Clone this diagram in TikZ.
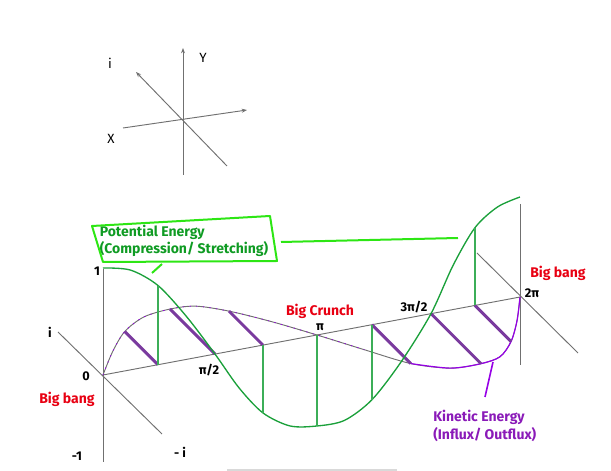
\documentclass[tikz,border=0pt]{standalone}
\usepackage{fontspec}
\setmainfont{Fira Sans}
\usepackage{xcolor}
\usepackage{tikz}
\usetikzlibrary{arrows.meta, positioning, calc}
\definecolor{axisgray}{RGB}{112,112,112}
\definecolor{curvegreen}{RGB}{26,160,58}
\definecolor{textgreen}{RGB}{15,155,35}
\definecolor{boxgreen}{RGB}{45,230,20}
\definecolor{kinpurple}{RGB}{122,58,158}
\definecolor{brightpurple}{RGB}{150,0,230}
\definecolor{textpurple}{RGB}{138,26,184}
\definecolor{bangred}{RGB}{232,0,18}
\tikzset{
  axisline/.style  = {draw=axisgray, line width=0.7pt},
  axisarrow/.style = {axisline, -{Stealth[length=4pt, width=3pt]}},
  potcurve/.style  = {draw=curvegreen, line width=1pt},
  potbar/.style    = {draw=curvegreen!85, line width=1.1pt},
  kincurve/.style  = {draw=axisgray, line width=0.7pt},
  kinbar/.style    = {draw=kinpurple, line width=2.2pt},
  potbox/.style    = {draw=boxgreen, line width=1.5pt, line join=round},
  tag/.style       = {inner sep=0pt, font=\fontsize{10.5}{13}\selectfont\bfseries},
  redtag/.style    = {tag, text=bangred},
  ticktag/.style   = {inner sep=0pt, font=\fontsize{9.5}{11}\selectfont\bfseries},
  axtag/.style     = {inner sep=0pt, font=\fontsize{10}{12}\selectfont},
}
\begin{document}
\begin{tikzpicture}[x=0.75pt, y=0.75pt]
  \useasboundingbox (0,0) rectangle (611,471);

  % small frame of axes
  \coordinate (c) at (183,351);
  \coordinate (ytop) at (183,423);
  \coordinate (ybot) at (183,296);
  \coordinate (xl) at (123,343);
  \coordinate (xr) at (247,361);
  \coordinate (itop) at (136,399);
  \coordinate (ibot) at (227,305);
  \draw[axisarrow] (ybot) -- (ytop);
  \draw[axisarrow] (xl) -- (xr);
  \draw[axisarrow] (ibot) -- (itop);
  \node[axtag] (lbli) at (110,408) {i};
  \node[axtag] (lbly) at (203,413) {Y};
  \node[axtag] (lblx) at (111,332) {X};

  % points along the time axis, k*pi/8
  \foreach \k/\xa/\ga/\pa in {0/103/107/47, 1/130.5/108/47, 2/158/112/47,
      3/186.5/112/46, 4/215/104/45, 5/239/100/47, 6/263/96/48, 7/290/93/48,
      8/317/91/50, 9/344.5/98/52, 10/372/106/55, 11/401.5/110/53,
      12/431/112/50, 13/453/115/51, 14/475/110/51, 15/497.5/102/51,
      16/520/100/51} {
    \coordinate (a\k) at (\xa, {96+0.187*(\xa-103)});
    \coordinate (g\k) at (\xa, {96+0.187*(\xa-103)+\ga*cos(22.5*\k)});
    \coordinate (p\k) at ({\xa-\pa*sin(22.5*\k)}, {96+0.187*(\xa-103)+\pa*sin(22.5*\k)});
  }

  % axes of the big picture
  \coordinate (vtop) at (103,202);
  \coordinate (vbot) at (103,9);
  \coordinate (iup) at (58,139);
  \coordinate (idown) at (162,37);
  \coordinate (etop) at (520,267);
  \coordinate (ebot) at (520,106);
  \coordinate (eup) at (477,218);
  \coordinate (edown) at (578,118);
  \draw[axisline] (vtop) -- (vbot);
  \draw[axisline] (iup) -- (idown);
  \draw[axisline] (a0) -- (a16);
  \draw[axisline] (etop) -- (ebot);
  \draw[axisline] (eup) -- (edown);
  \draw[draw=black!15, line width=0.8pt] (227,1) -- (397,1);

  % kinetic energy
  \draw[kincurve] plot[smooth] coordinates {(p0) (p1) (p2) (p3) (p4) (p5) (p6)
    (p7) (p8) (p9) (p10) (p11) (p12) (p13) (p14) (p15) (p16)};
  \draw[brightpurple, line width=0.6pt, dash pattern=on 1pt off 4pt]
    plot[smooth] coordinates {(p0) (p1) (p2) (p3) (p4) (p5) (p6) (p7) (p8) (p9)};
  \draw[brightpurple, line width=0.9pt]
    plot[smooth] coordinates {(p10) (p11) (p12) (p13) (p14) (p15) (p16)};
  \foreach \k in {2,4,6,10,12,14}
    \draw[kinbar] (a\k) -- (p\k);

  % potential energy
  \draw[potcurve] plot[smooth] coordinates {(g0) (g1) (g2) (g3) (g4) (g5) (g6)
    (g7) (g8) (g9) (g10) (g11) (g12) (g13) (g14) (g15) (g16)};
  \foreach \k in {2,6,8,10,14}
    \draw[potbar] (a\k) -- (g\k);

  % labels on the axes
  \node[ticktag] (zero) at (86,95) {0};
  \node[ticktag] (halfpi) at (209,101) {π/2};
  \node[ticktag] (pi) at (320,144) {π};
  \node[ticktag] (threehalfpi) at (414,164) {3π/2};
  \node[ticktag] (twopi) at (532,178) {2π};
  \node[ticktag] (one) at (97,200) {1};
  \node[ticktag] (minusone) at (77,15) {-1};
  \node[ticktag] (iplus) at (50,139) {i};
  \node[ticktag] (iminus) at (180,19) {- i};

  \node[redtag] (bangl) at (67,72) {Big bang};
  \node[redtag] (crunch) at (320,160) {Big Crunch};
  \node[redtag] (bangr) at (558,198) {Big bang};

  % potential energy label
  \node[tag, text=textgreen, align=left] (pot) at (184,230)
    {Potential Energy\\(Compression/ Stretching)};
  \coordinate (pb1) at (92,245);
  \coordinate (pb2) at (270,255);
  \coordinate (pb3) at (277,210);
  \coordinate (pb4) at (103,209);
  \draw[potbox] (pb1) -- (pb2) -- (pb3) -- (pb4) -- cycle;
  \coordinate (pp1) at (152,198);
  \coordinate (pp2) at (162,207);
  \coordinate (pq1) at (281,229);
  \coordinate (pq2) at (458,233);
  \draw[potbox] (pp1) -- (pp2);
  \draw[potbox] (pq1) -- (pq2);

  % kinetic energy label
  \node[tag, text=textpurple, align=left, anchor=west] (kin) at (433,45)
    {Kinetic Energy\\(Influx/ Outflux)};
  \coordinate (kp1) at (485,74);
  \coordinate (kp2) at (493,109);
  \draw[brightpurple, line width=1.2pt] (kp1) -- (kp2);
\end{tikzpicture}
\end{document}
